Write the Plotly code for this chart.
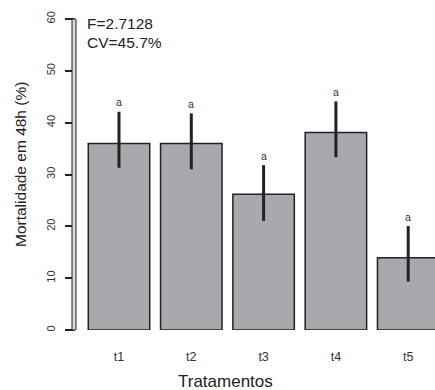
import plotly.graph_objects as go

categories = ["t1", "t2", "t3", "t4", "t5"]
means = [36.0, 36.0, 26.2, 38.1, 13.95]
err_up = [6.1, 5.8, 5.6, 6.0, 6.1]
err_down = [4.7, 5.0, 5.15, 4.75, 4.6]
letters = ["a", "a", "a", "a", "a"]
yticks = [0, 10, 20, 30, 40, 50, 60]

W, H = 435, 390
ML, MR, MT, MB = 76, 0, 19, 60
PW = W - ML - MR
PH = H - MT - MB
FONT = "Liberation Sans, Arial, Helvetica, sans-serif"

xpos = list(range(len(categories)))
spacing = 72.3
x0 = (76 - 119) / spacing
x1 = x0 + PW / spacing

fig = go.Figure()
fig.add_trace(go.Bar(
    x=xpos, y=means, width=0.85,
    marker=dict(color="#a8a9ac", line=dict(color="#222222", width=1.5)),
    error_y=dict(type="data", symmetric=False, array=err_up, arrayminus=err_down,
                 color="#222222", thickness=3, width=0),
    showlegend=False, hoverinfo="skip",
))

annotations = []
for xi, m, u, lab in zip(xpos, means, err_up, letters):
    annotations.append(dict(x=xi, y=m + u, xref="x", yref="y", text=lab, showarrow=False,
                            yanchor="middle", yshift=9.5,
                            font=dict(family=FONT, size=10.5, color="#333333")))

def px_x(p):
    return (p - ML) / PW

def px_y(p):
    return (MT + PH - p) / PH

annotations += [
    dict(x=px_x(84.5), y=px_y(23.7), xref="paper", yref="paper", text="F=2.7128",
         showarrow=False, xanchor="left", yanchor="middle",
         font=dict(family=FONT, size=15.5, color="#222222")),
    dict(x=px_x(84.5), y=px_y(42.8), xref="paper", yref="paper", text="CV=45.7%",
         showarrow=False, xanchor="left", yanchor="middle",
         font=dict(family=FONT, size=15.5, color="#222222")),
    dict(x=px_x(225.5), y=px_y(381.7), xref="paper", yref="paper", text="Tratamentos",
         showarrow=False, xanchor="center", yanchor="middle",
         font=dict(family=FONT, size=17, color="#222222")),
    dict(x=px_x(20), y=px_y(165), xref="paper", yref="paper", text="Mortalidade em 48h (%)",
         showarrow=False, xanchor="center", yanchor="middle", textangle=-90,
         font=dict(family=FONT, size=15.5, color="#222222")),
]

shapes = [
    dict(type="rect", xref="paper", yref="y", x0=-4 / PW, x1=0, y0=0, y1=60,
         fillcolor="#d9d9d9", line=dict(color="#222222", width=1), layer="above"),
]

fig.update_layout(
    width=W, height=H,
    margin=dict(l=ML, r=MR, t=MT, b=MB, pad=0),
    paper_bgcolor="white", plot_bgcolor="white",
    font=dict(family=FONT, color="#333333"),
    annotations=annotations, shapes=shapes,
    xaxis=dict(range=[x0, x1], tickmode="array", tickvals=xpos, ticktext=categories,
               showgrid=False, zeroline=False, showline=False, ticks="",
               ticklabelstandoff=17, tickfont=dict(family=FONT, size=12.5, color="#333333")),
    yaxis=dict(range=[0, 60], tickmode="array", tickvals=yticks,
               showgrid=False, zeroline=False, showline=True, linecolor="#222222", linewidth=1,
               ticks="outside", ticklen=10, tickwidth=2, tickcolor="#222222",
               tickangle=-90, ticklabelstandoff=6,
               tickfont=dict(family=FONT, size=11, color="#333333")),
    bargap=0.15,
)

fig.write_html("out.html")
